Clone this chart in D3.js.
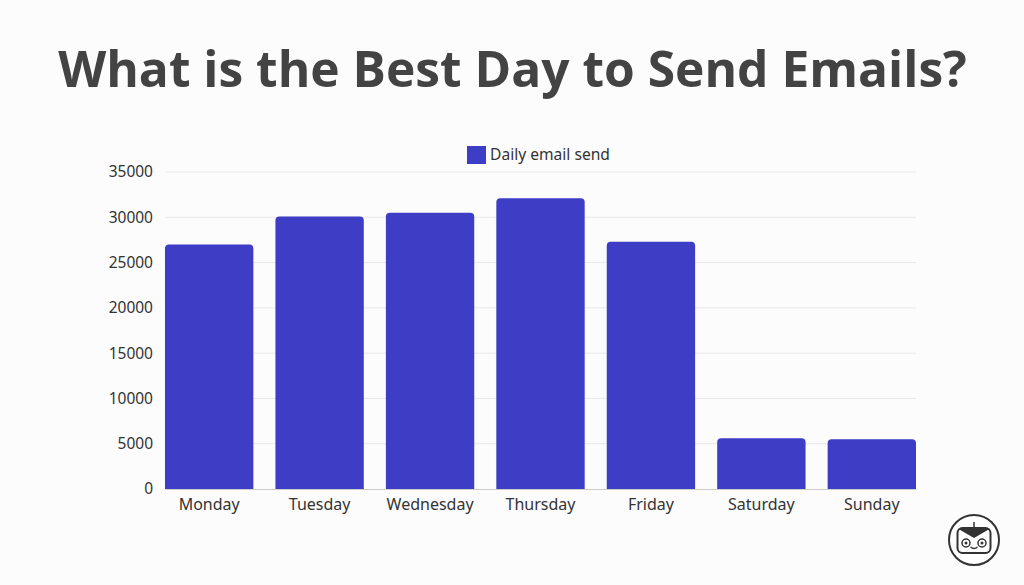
<!DOCTYPE html>
<html>
<head>
<meta charset="utf-8">
<script src="https://cdn.jsdelivr.net/npm/d3@7/dist/d3.min.js"></script>
<style>
  html, body { margin: 0; padding: 0; background: #fcfcfc; }
  svg { display: block; }
</style>
</head>
<body>
<svg id="chart" width="1024" height="585"></svg>
<script>
const categories = ["Monday", "Tuesday", "Wednesday", "Thursday", "Friday", "Saturday", "Sunday"];
const values = [27000, 30100, 30500, 32100, 27300, 5600, 5500];
const yTicks = [0, 5000, 10000, 15000, 20000, 25000, 30000, 35000];
const seriesName = "Daily email send";
const titleText = "What is the Best Day to Send Emails?";

const svg = d3.select("#chart");
const W = 1024, H = 585;
const margin = { left: 165, right: 108, top: 172, bottom: 96 };
const color = "#3d3dc6";

svg.append("rect").attr("width", W).attr("height", H).attr("fill", "#fcfcfc");

// Title
svg.append("text")
  .attr("x", W / 2 + 0.5).attr("y", 87)
  .attr("text-anchor", "middle")
  .attr("font-family", "'Open Sans', sans-serif")
  .attr("font-weight", 700)
  .attr("font-size", 49.7)
  .attr("fill", "#434343")
  .text(titleText);

const x = d3.scaleBand().domain(categories).range([margin.left, W - margin.right]).paddingInner(0.2).paddingOuter(0);
const y = d3.scaleLinear().domain([0, 35000]).range([H - margin.bottom, margin.top]);

// Gridlines
svg.append("g").selectAll("line").data(yTicks.filter(d => d > 0)).join("line")
  .attr("x1", margin.left).attr("x2", W - margin.right)
  .attr("y1", d => y(d)).attr("y2", d => y(d))
  .attr("stroke", "#e8e8e8").attr("stroke-width", 1);

// Y axis
const yAxis = svg.append("g")
  .attr("transform", `translate(${margin.left},0)`)
  .call(d3.axisLeft(y).tickValues(yTicks).tickFormat(d3.format("d")).tickSize(0).tickPadding(12));
yAxis.select(".domain").remove();
yAxis.selectAll("text")
  .attr("font-family", "'Noto Sans', sans-serif")
  .attr("font-size", 15.5)
  .attr("fill", "#333");

// Bars with rounded top corners
const r = 4;
function barPath(d, i) {
  const x0 = x(categories[i]), w = x.bandwidth();
  const y0 = y(d), yb = y(0);
  return `M${x0},${yb}V${y0 + r}Q${x0},${y0} ${x0 + r},${y0}H${x0 + w - r}Q${x0 + w},${y0} ${x0 + w},${y0 + r}V${yb}Z`;
}
svg.append("g").selectAll("path").data(values).join("path")
  .attr("d", (d, i) => barPath(d, i))
  .attr("fill", color);

// X axis
const xAxis = svg.append("g")
  .attr("transform", `translate(0,${y(0)})`)
  .call(d3.axisBottom(x).tickSize(0).tickPadding(10));
xAxis.select(".domain").attr("stroke", "#cccccc");
xAxis.selectAll("text")
  .attr("font-family", "'Noto Sans', sans-serif")
  .attr("font-size", 16)
  .attr("fill", "#333");

// Legend
const lg = svg.append("g").attr("transform", "translate(467,146)");
lg.append("rect").attr("width", 19).attr("height", 18).attr("fill", color);
lg.append("text").attr("x", 23).attr("y", 14)
  .attr("font-family", "'Noto Sans', sans-serif")
  .attr("font-size", 15.6)
  .attr("fill", "#333")
  .text(seriesName);

// Logo
const logo = svg.append("g").attr("transform", "translate(974,540)");
logo.append("circle").attr("r", 25).attr("fill", "#fff").attr("stroke", "#333").attr("stroke-width", 2);
logo.append("rect").attr("x", -16.5).attr("y", -12).attr("width", 33).attr("height", 25).attr("rx", 5)
  .attr("fill", "#fff").attr("stroke", "#333").attr("stroke-width", 2);
logo.append("path").attr("d", "M-15.5,-11 L15.5,-11 L0,-2 Z").attr("fill", "#333");
logo.append("line").attr("x1", 0).attr("x2", 0).attr("y1", -18).attr("y2", -11).attr("stroke", "#333").attr("stroke-width", 1.5);
[-8, 8].forEach(cx => {
  logo.append("circle").attr("cx", cx).attr("cy", 3).attr("r", 4).attr("fill", "none").attr("stroke", "#333").attr("stroke-width", 1.5);
  logo.append("circle").attr("cx", cx).attr("cy", 3).attr("r", 1.5).attr("fill", "#333");
});
logo.append("path").attr("d", "M-3.5,7 Q0,10 3.5,7").attr("fill", "none").attr("stroke", "#333").attr("stroke-width", 1.5);
</script>
</body>
</html>
